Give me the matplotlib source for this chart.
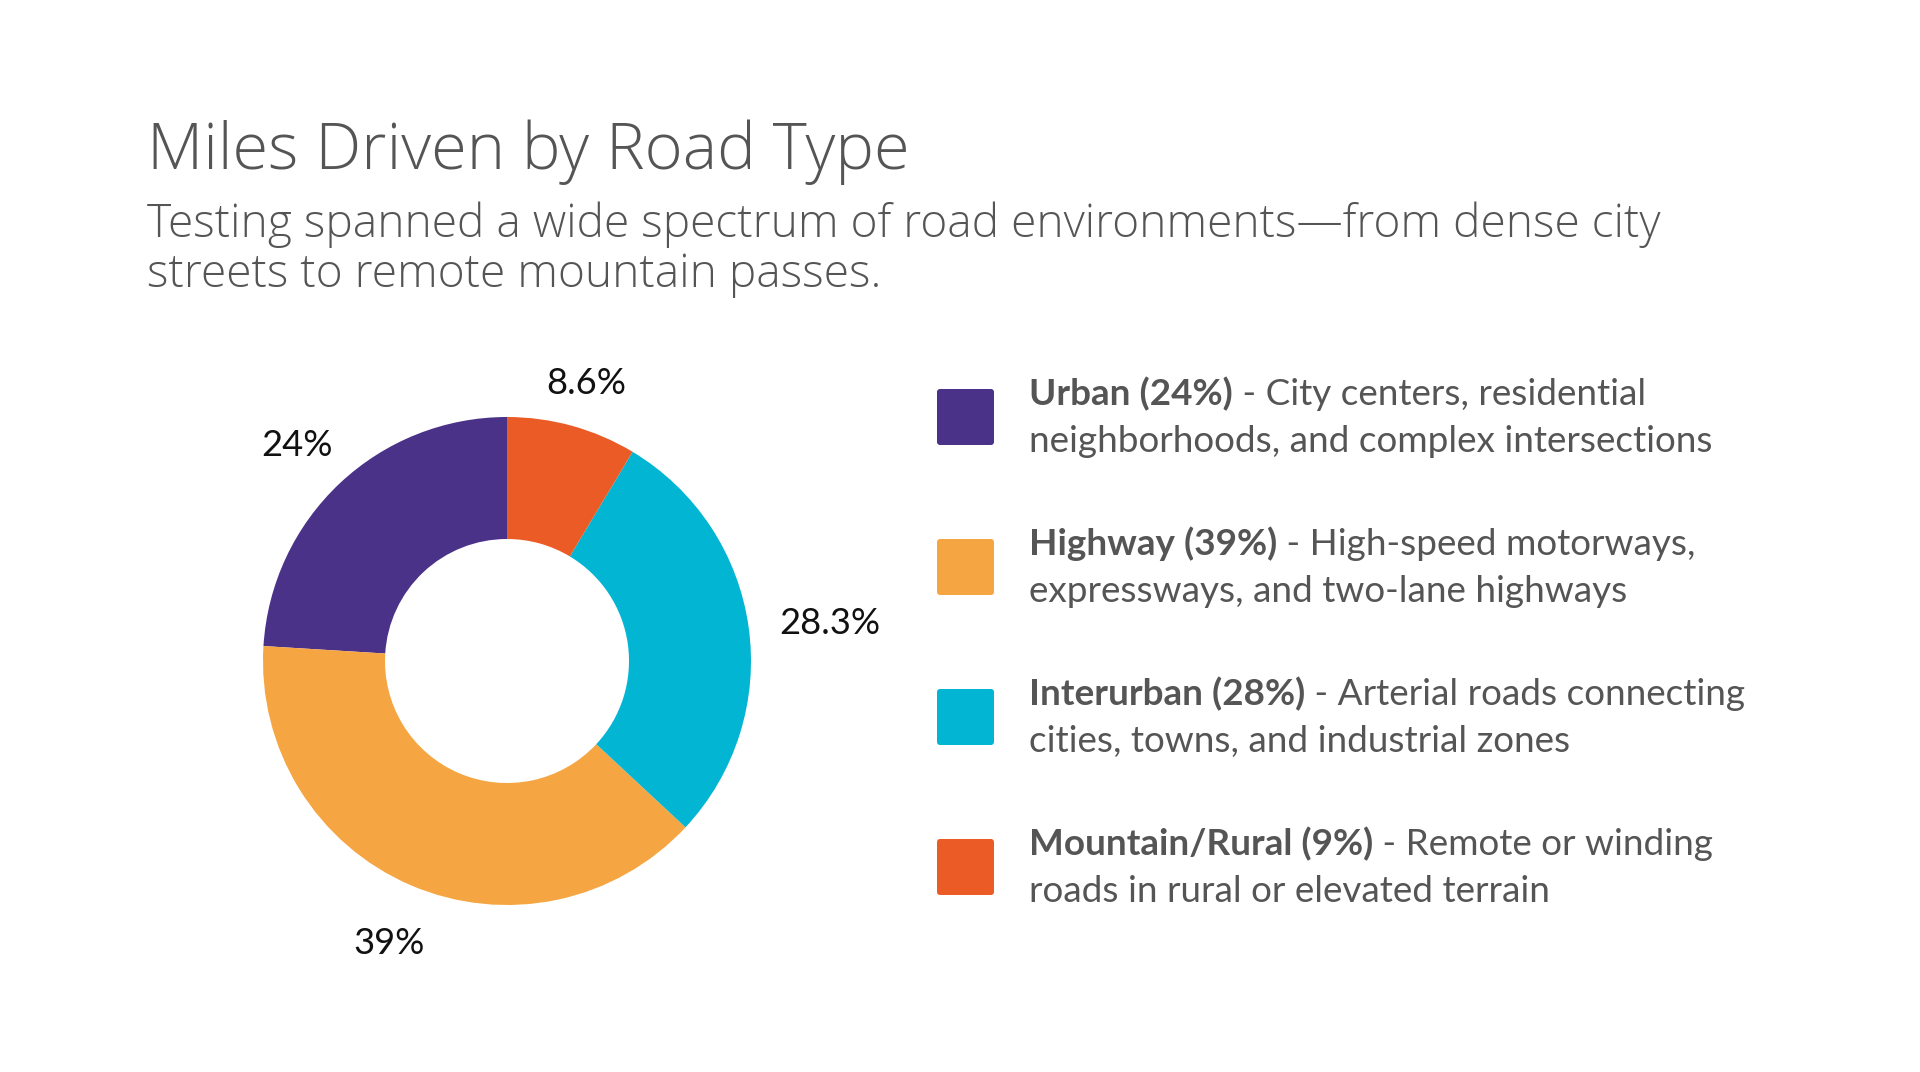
import matplotlib
matplotlib.use("Agg")
import matplotlib.pyplot as plt
from matplotlib.patches import FancyBboxPatch
import numpy as np

# ---------------- data ----------------
categories = ["Urban", "Highway", "Interurban", "Mountain/Rural"]
values = [24, 39, 28.3, 8.6]
colors = ["#4B3289", "#F5A642", "#02B5D3", "#EB5B26"]
descriptions = [
    ["City centers, residential", "neighborhoods, and complex intersections"],
    ["High-speed motorways,", "expressways, and two-lane highways"],
    ["Arterial roads connecting", "cities, towns, and industrial zones"],
    ["Remote or winding", "roads in rural or elevated terrain"],
]
title = "Miles Driven by Road Type"
subtitle = ["Testing spanned a wide spectrum of road environments\u2014from dense city",
            "streets to remote mountain passes."]

# ---------------- layout ----------------
W, H = 1920, 1072
fig = plt.figure(figsize=(W / 100, H / 100), dpi=100)
fig.patch.set_facecolor("white")
bg = fig.add_axes([0, 0, 1, 1])
bg.set_xlim(0, W)
bg.set_ylim(H, 0)
bg.axis("off")
renderer = fig.canvas.get_renderer()

TEXT_COL = "#555555"
TITLE_FONT = ["Open Sans", "DejaVu Sans"]
BODY_FONT = ["Lato", "DejaVu Sans"]
LABEL_FONT = ["Lato", "DejaVu Sans"]


def width_of(t):
    return t.get_window_extent(renderer).width


def fit(t, target):
    t.set_fontsize(t.get_fontsize() * target / width_of(t))


# title + subtitle
t = bg.text(147, 169, title, fontsize=40, color=TEXT_COL, family=TITLE_FONT,
            fontweight="light", va="baseline", ha="left")
fit(t, 761)
s1 = bg.text(147, 237, subtitle[0], fontsize=26, color=TEXT_COL, family=TITLE_FONT,
             fontweight="light", va="baseline", ha="left")
fit(s1, 1518)
bg.text(147, 287, subtitle[1], fontsize=s1.get_fontsize(), color=TEXT_COL,
        family=TITLE_FONT, fontweight="light", va="baseline", ha="left")

# donut
cx, cy, R = 507, 661, 244
pad = 1.45
size = 2 * pad * R
pax = fig.add_axes([(cx - size / 2) / W, (H - cy - size / 2) / H, size / W, size / H])
wedges, _ = pax.pie(values, colors=colors, startangle=90, counterclock=True, radius=1,
                    wedgeprops=dict(width=0.5, linewidth=0))
pax.set_xlim(-pad, pad)
pax.set_ylim(-pad, pad)
pax.set_aspect("equal")
pax.axis("off")

# percentage label size: match reference width of the smallest label
probe = bg.text(0, -500, f"{values[3]:g}%", fontsize=24, family=LABEL_FONT)
lab_fs = 24 * 80 / width_of(probe)
probe.remove()

r_base = 274 / R       # gap from centre to nearest label edge (in radius units)
drop = 8 / R
for w, v in zip(wedges, values):
    ang = np.deg2rad((w.theta1 + w.theta2) / 2)
    ux, uy = np.cos(ang), np.sin(ang)
    lt = pax.text(0, 0, f"{v:g}%", ha="center", va="center", fontsize=lab_fs,
                  color="#111111", family=LABEL_FONT)
    bb = lt.get_window_extent(renderer)
    half = (abs(bb.width / 2 * ux) + abs(0.5 * 24 * uy)) / R
    rr = r_base + half
    lt.set_position((rr * ux, rr * uy - drop))

# legend
sq_x, sq_top, sq_w, sq_h, step = 937, 389, 57, 56, 150
tx = 1029
line_gap = 47

probe_b = bg.text(0, -500, f"{categories[2]} ({round(values[2])}%)", fontsize=22,
                  family=BODY_FONT, fontweight="bold")
probe_r = bg.text(0, -500, " - " + descriptions[2][0], fontsize=22, family=BODY_FONT)
wtot = width_of(probe_b) + width_of(probe_r)
fs = 22 * 715 / wtot
probe_b.remove()
probe_r.remove()

for i, (cat, v, col, desc) in enumerate(zip(categories, values, colors, descriptions)):
    top = sq_top + step * i
    bg.add_patch(FancyBboxPatch((sq_x, top), sq_w, sq_h,
                                boxstyle="round,pad=0,rounding_size=3",
                                facecolor=col, edgecolor="none"))
    base = top + 16
    tb = bg.text(tx, base, f"{cat} ({round(v)}%)", fontsize=fs, family=BODY_FONT,
                 fontweight="bold", color=TEXT_COL, va="baseline", ha="left")
    bw = width_of(tb)
    bg.text(tx + bw, base, " - " + desc[0], fontsize=fs, family=BODY_FONT,
            color=TEXT_COL, va="baseline", ha="left")
    bg.text(tx, base + line_gap, desc[1], fontsize=fs, family=BODY_FONT,
            color=TEXT_COL, va="baseline", ha="left")

fig.savefig("out.png", dpi=100, facecolor="white")
